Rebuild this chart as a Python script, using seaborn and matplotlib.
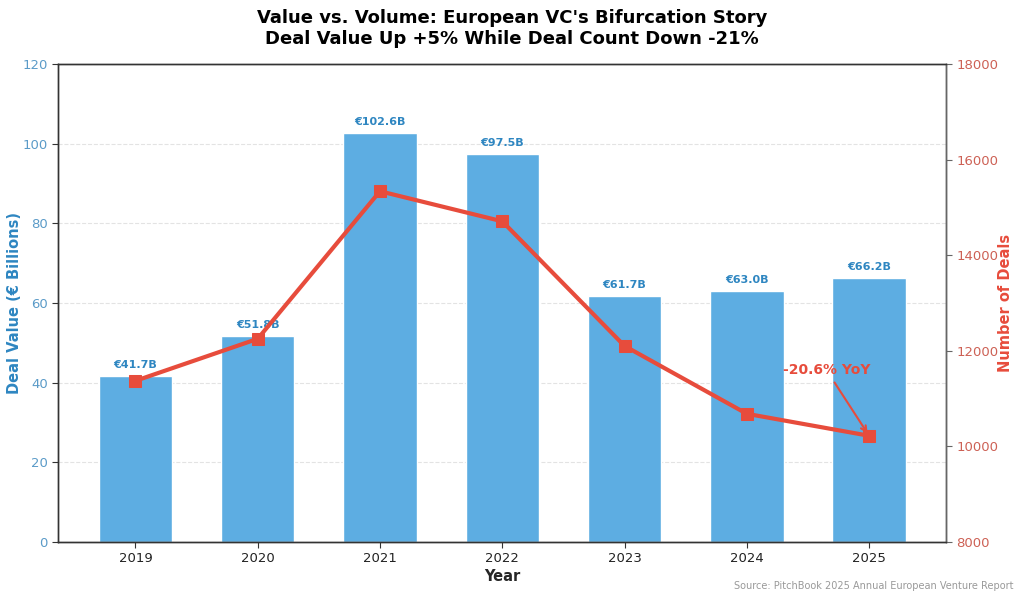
import numpy as np
import pandas as pd
import matplotlib
matplotlib.use('Agg')
import matplotlib.pyplot as plt
import seaborn as sns

# data
years = ['2019', '2020', '2021', '2022', '2023', '2024', '2025']
deal_value = [41.7, 51.8, 102.6, 97.5, 61.7, 63.0, 66.2]
deal_count = [11370, 12250, 15340, 14710, 12100, 10680, 10220]
value_labels = ['€41.7B', '€51.8B', '€102.6B', '€97.5B', '€61.7B', '€63.0B', '€66.2B']

blue_bar = '#5DADE2'
blue_txt = '#2E86C1'
blue_tick = '#5B9BC8'
red = '#E74C3C'
red_tick = '#CD6155'

sns.set_style('white')
plt.rcParams['font.family'] = ['DejaVu Sans']

df = pd.DataFrame({'Year': years, 'Value': deal_value, 'Deals': deal_count})

fig, ax = plt.subplots(figsize=(10.24, 6), dpi=100)
fig.subplots_adjust(left=0.057, right=0.924, top=0.893, bottom=0.097)

sns.barplot(data=df, x='Year', y='Value', color=blue_bar, width=0.6,
            saturation=1, ax=ax, zorder=2)
ax.set_ylim(0, 120)
ax.set_ylabel('Deal Value (€ Billions)', color=blue_txt, fontsize=10.5,
              fontweight='bold')
ax.yaxis.set_label_coords(-0.041, 0.5)
ax.set_xlabel('Year', fontsize=10.5, fontweight='bold', labelpad=3)
ax.tick_params(axis='y', colors='#333333', labelcolor=blue_tick, labelsize=9.5,
               left=True, length=4)
ax.tick_params(axis='x', colors='#333333', labelcolor='#222222', labelsize=9.5,
               bottom=True, length=4)
ax.yaxis.grid(True, linestyle='--', color='#dddddd', linewidth=0.8, alpha=0.8)
ax.set_axisbelow(True)

for i, (v, lab) in enumerate(zip(deal_value, value_labels)):
    ax.text(i, v + 1.5, lab, ha='center', va='bottom', color=blue_txt,
            fontsize=8, fontweight='bold')

ax2 = ax.twinx()
sns.lineplot(x=np.arange(len(years)), y=deal_count, color=red, linewidth=3,
             marker='s', markersize=9, markeredgecolor=red, ax=ax2, zorder=3)
ax2.set_ylim(8000, 18000)
ax2.set_ylabel('Number of Deals', color=red, fontsize=10.5, fontweight='bold')
ax2.yaxis.set_label_coords(1.058, 0.5)
ax2.tick_params(axis='y', colors='#666666', labelcolor=red_tick, labelsize=9.5,
                right=True, length=4)

ax2.annotate('-20.6% YoY', xy=(6, deal_count[-1]), xytext=(5.65, 11600),
             ha='center', va='center', color=red, fontsize=10, fontweight='bold',
             arrowprops=dict(arrowstyle='->', color=red, lw=1.5))

for a in (ax, ax2):
    for s in a.spines.values():
        s.set_color('#333333')
        s.set_linewidth(1)
ax2.spines['right'].set_color('#666666')

fig.suptitle("Value vs. Volume: European VC's Bifurcation Story\n"
             "Deal Value Up +5% While Deal Count Down -21%",
             fontsize=13, fontweight='bold', color='black', y=0.985)
fig.text(0.99, 0.015, 'Source: PitchBook 2025 Annual European Venture Report',
         ha='right', va='bottom', fontsize=7, color='#999999')

fig.savefig('out.png', dpi=100)
